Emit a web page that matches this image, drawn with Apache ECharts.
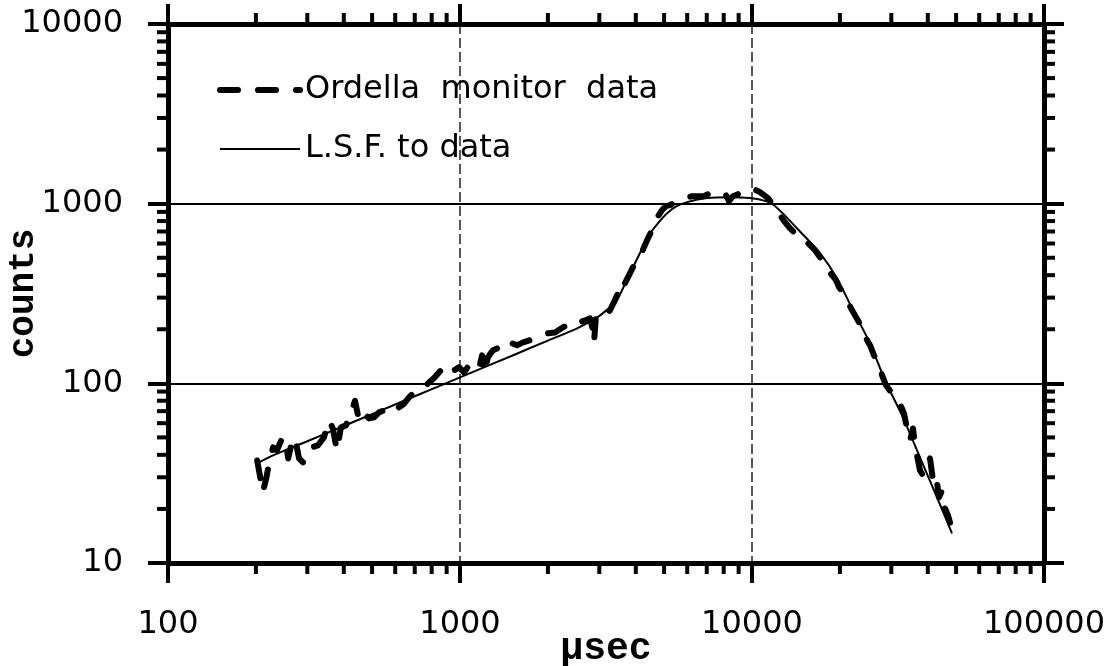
<!DOCTYPE html>
<html lang="en">
<head>
<meta charset="UTF-8">
<title>Ordella monitor data</title>
<script src="https://cdn.jsdelivr.net/npm/echarts@6/dist/echarts.min.js"></script>
<style>
  html, body { margin: 0; padding: 0; background: #fff; }
  #chart { width: 1113px; height: 666px; }
</style>
</head>
<body>
<div id="chart"></div>
<script>
// monitor data (usec, counts)
var dataUsec = [202, 207, 211, 217, 222, 229, 236, 244, 252, 258, 264, 272, 281, 290, 299, 311, 326, 342, 356, 367,
  379, 391, 407, 423, 437, 451, 469, 488, 508, 528, 549, 571, 594, 618, 643, 669, 696, 724, 753, 783,
  815, 847, 881, 917, 954, 992, 1032, 1073, 1117, 1162, 1190, 1208, 1247, 1297, 1371, 1449, 1507, 1567, 1644, 1737,
  1821, 1909, 2001, 2115, 2253, 2362, 2476, 2576, 2680, 2788, 2855, 2877, 2923, 3016, 3137, 3263, 3368, 3476, 3560, 3674,
  3792, 3912, 4037, 4133, 4266, 4403, 4509, 4654, 4765, 4918, 5076, 5239, 5449, 5668, 5943, 6231, 6533, 6848, 7181, 7529,
  7896, 8147, 8340, 8610, 8957, 9315, 9690, 10000, 10320, 10650, 10990, 11340, 11710, 12080, 12470, 12970, 13490, 14040, 14600, 15190,
  15800, 16440, 17100, 17640, 18210, 18790, 19400, 19860, 20490, 21150, 21830, 22530, 23250, 23810, 24580, 25360, 26170, 27010, 27880, 28770,
  29690, 30880, 32130, 33150, 33950, 34760, 35600, 36160, 36740, 37610, 38510, 39740, 40700, 41680, 42680, 43700, 44740, 45810, 46910, 47670];
var dataCounts = [37.2, 29.9, 24.7, 29.5, 36.3, 44, 42.3, 48, 50, 38.2, 45.1, 50, 38.2, 36.3, 41.3, 44, 45.1, 50, 62.2, 56.1,
  42.3, 56.9, 58.3, 68.9, 80, 62.2, 68.1, 63.8, 64.7, 68.9, 70.7, 75, 77, 73.5, 77, 83.6, 89.1, 94, 95, 101,
  107, 115, 123, 114, 118, 123, 115, 126, 129, 121, 143, 114, 140, 153, 159, 153, 167, 163, 169, 174,
  178, 183, 190, 192, 205, 213, 224, 219, 224, 230, 197, 169, 239, 245, 239, 255, 283, 317, 375, 361,
  400, 443, 472, 503, 572, 642, 694, 789, 852, 920, 968, 981, 1019, 1046, 1073, 1101, 1101, 1101, 1144, 1174,
  1144, 1115, 1033, 1101, 1130, 1159, 1189, 1220, 1189, 1159, 1115, 1073, 1006, 920, 863, 789, 730, 685, 667, 626,
  587, 551, 503, 460, 426, 400, 375, 343, 321, 290, 262, 239, 219, 185, 178, 163, 143, 131, 111, 97.5,
  91, 82, 77, 68.1, 56.1, 48.1, 56.1, 45.1, 39.7, 32.8, 30.7, 34.9, 38.2, 28.8, 30.7, 23.2, 25.3, 20.1, 18.4, 16.8];

// least squares fit
var fitUsec = [205, 229, 300, 400, 500, 700, 1000, 1500, 2000, 2500, 2940, 3200, 3443, 3724, 4130, 4480, 4800, 5120,
  5500, 5990, 7010, 8410, 9840, 11250, 11800, 12770, 14600, 17100, 19540, 22180, 25360, 28530, 32880, 37600, 43000, 48400];
var fitCounts = [36.3, 39.7, 47.6, 57.9, 67.4, 84.7, 108, 142, 173, 201, 232, 258, 290, 375, 530, 683, 790, 885,
  965, 1020, 1074, 1087, 1074, 1030, 990, 880, 700, 530, 384, 255, 167, 104, 64.7, 38.7, 23.2, 14.6];

var xMinorTicks = [200, 300, 400, 500, 600, 700, 800, 900, 2000, 3000, 4000, 5000, 6000, 7000, 8000, 9000,
  20000, 30000, 40000, 50000, 60000, 70000, 80000, 90000];
var yMinorTicks = [20, 30, 40, 50, 60, 70, 80, 90, 200, 300, 400, 500, 600, 700, 800, 900,
  2000, 3000, 4000, 5000, 6000, 7000, 8000, 9000];

var seriesNames = ['Ordella  monitor  data', 'L.S.F. to data'];

var SANS = 'DejaVu Sans';
var MONO = 'Liberation Mono';
var MINOR_LEN = 11;

function pairs(xs, ys) {
  return xs.map(function (x, i) { return [x, ys[i]]; });
}

function baseAxis(min, max, position) {
  return {
    type: 'log', logBase: 10, min: min, max: max, position: position,
    axisLine: { show: true, onZero: false, lineStyle: { color: '#000', width: 5 } },
    axisTick: { show: true, inside: false, length: 20, lineStyle: { color: '#000', width: 4 } },
    axisLabel: { show: false },
    splitLine: { show: false },
    minorTick: { show: false }
  };
}

var xBottom = baseAxis(100, 100000, 'bottom');
xBottom.axisLabel = {
  show: true, margin: 46, color: '#000', fontFamily: SANS, fontSize: 32,
  formatter: function (v) { return String(Math.round(v)); }
};
xBottom.splitLine = { show: true, lineStyle: { color: '#222', width: 1.5, type: [10, 4] } };
xBottom.name = '\u00b5sec';
xBottom.nameLocation = 'middle';
xBottom.nameGap = 67;
xBottom.nameMoveOverlap = false;
xBottom.nameTextStyle = { fontFamily: MONO, fontWeight: 'bold', fontSize: 38, color: '#000' };

var xTop = baseAxis(100, 100000, 'top');

var yLeft = baseAxis(10, 10000, 'left');
yLeft.axisLabel = {
  show: true, margin: 45, color: '#000', fontFamily: SANS, fontSize: 32,
  formatter: function (v) { return String(Math.round(v)); }
};
yLeft.splitLine = { show: true, lineStyle: { color: '#000', width: 2 } };
yLeft.name = 'counts';
yLeft.nameLocation = 'middle';
yLeft.nameRotate = 90;
yLeft.nameGap = 126;
yLeft.nameMoveOverlap = false;
yLeft.nameTextStyle = { fontFamily: MONO, fontWeight: 'bold', fontSize: 36, color: '#000' };

var yRight = baseAxis(10, 10000, 'right');

function tickLine(x1, y1, x2, y2) {
  return { type: 'line', shape: { x1: x1, y1: y1, x2: x2, y2: y2 }, style: { stroke: '#000', lineWidth: 4 } };
}

var chart = echarts.init(document.getElementById('chart'));
chart.setOption({
  animation: false,
  backgroundColor: '#fff',
  grid: { left: 168, right: 69, top: 24, bottom: 103, containLabel: false, outerBoundsMode: 'none' },
  legend: {
    data: seriesNames,
    orient: 'vertical', left: 212, top: 69,
    itemWidth: 80, itemHeight: 20, itemGap: 27,
    selectedMode: false,
    textStyle: { fontFamily: SANS, fontSize: 32, color: '#000' },
    itemStyle: { opacity: 0 },
    lineStyle: { width: 'inherit' }
  },
  xAxis: [xBottom, xTop],
  yAxis: [yLeft, yRight],
  series: [
    {
      name: seriesNames[0], type: 'line', data: pairs(dataUsec, dataCounts),
      symbol: 'none', showSymbol: false, z: 3,
      itemStyle: { color: '#000' },
      lineStyle: { color: '#000', width: 6, type: [18, 20], cap: 'round', join: 'round' }
    },
    {
      name: seriesNames[1], type: 'line', data: pairs(fitUsec, fitCounts),
      symbol: 'none', showSymbol: false, smooth: 0.25, z: 4,
      itemStyle: { color: '#000' },
      lineStyle: { color: '#000', width: 2 }
    },
    {
      type: 'custom', silent: true, z: 5,
      data: xMinorTicks.map(function (v) { return [v, 10]; }),
      renderItem: function (params, api) {
        var b = api.coord([api.value(0), 10]);
        var t = api.coord([api.value(0), 10000]);
        return { type: 'group', children: [
          tickLine(b[0], b[1], b[0], b[1] + MINOR_LEN),
          tickLine(t[0], t[1], t[0], t[1] - MINOR_LEN)
        ] };
      }
    },
    {
      type: 'custom', silent: true, z: 5,
      data: yMinorTicks.map(function (v) { return [100, v]; }),
      renderItem: function (params, api) {
        var l = api.coord([100, api.value(1)]);
        var r = api.coord([100000, api.value(1)]);
        return { type: 'group', children: [
          tickLine(l[0], l[1], l[0] - MINOR_LEN, l[1]),
          tickLine(r[0], r[1], r[0] + MINOR_LEN, r[1])
        ] };
      }
    }
  ]
});
</script>
</body>
</html>
